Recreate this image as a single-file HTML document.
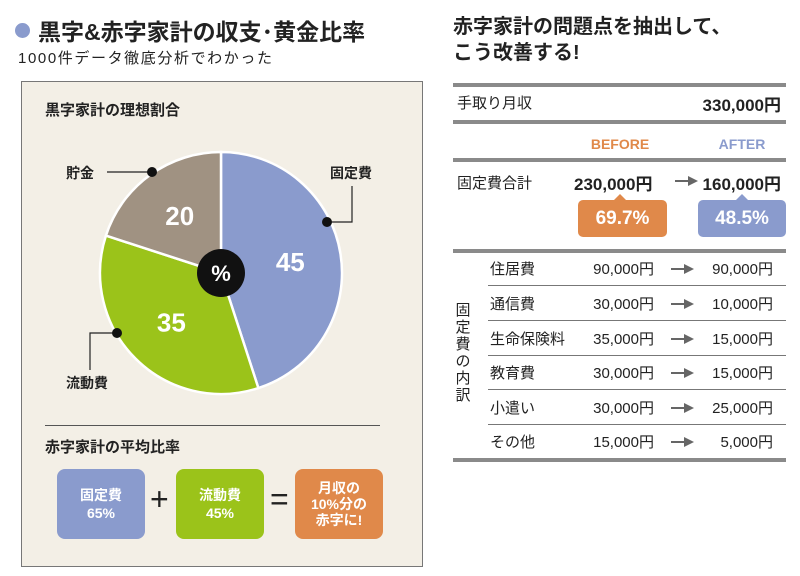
<!DOCTYPE html>
<html><head><meta charset="utf-8">
<style>
*{margin:0;padding:0;box-sizing:border-box}
body{width:800px;height:576px;background:#fff;position:relative;overflow:hidden;font-family:"Liberation Sans","Noto Sans CJK JP",sans-serif;color:#222}
.a{position:absolute;white-space:nowrap}
.b{font-weight:bold}
.gl{position:absolute;left:453px;width:333px;height:4px;background:#8a8a8a}
.tl{position:absolute;left:488px;width:298px;height:1px;background:#777}
.box{position:absolute;top:469px;width:88px;height:70px;border-radius:8px;color:#fff;font-weight:bold;font-size:14px;line-height:18px;text-align:center;display:flex;align-items:center;justify-content:center}
.nm{left:490px;font-size:15px}
.bv{left:560px;width:94px;text-align:right;font-size:15px}
.av{left:680px;width:93px;text-align:right;font-size:15px}
.arw{position:absolute;left:671px;width:24px;height:10px}
.arw::before{content:"";position:absolute;left:0;top:4px;width:14px;height:2px;background:#666}
.arw::after{content:"";position:absolute;left:13px;top:0;border-left:10px solid #666;border-top:5px solid transparent;border-bottom:5px solid transparent}
</style></head><body>
<div class="a" style="left:15px;top:23px;width:15px;height:15px;border-radius:50%;background:#8a9bcd"></div>
<div class="a b" style="left:38px;top:13px;font-size:23px">黒字&amp;赤字家計の収支･黄金比率</div>
<div class="a" style="left:18px;top:47px;font-size:15px;letter-spacing:1.6px">1000件データ徹底分析でわかった</div>

<div class="a" style="left:21px;top:81px;width:402px;height:486px;background:#f3efe6;border:1px solid #777"></div>
<div class="a b" style="left:45px;top:99px;font-size:15px">黒字家計の理想割合</div>

<svg class="a" style="left:0;top:0" width="440" height="576">
<g id="pie"></g>
<g stroke="#222" stroke-width="1.2" fill="none">
<polyline points="352,186 352,222 327,222"/>
<polyline points="107,172 152,172"/>
<polyline points="117,333 90,333 90,370"/>
</g>
<circle cx="327" cy="222" r="5" fill="#111"/>
<circle cx="152" cy="172" r="5" fill="#111"/>
<circle cx="117" cy="333" r="5" fill="#111"/>
<text x="330" y="178" font-size="14" font-weight="bold" fill="#222">固定費</text>
<text x="66" y="178" font-size="14" font-weight="bold" fill="#222">貯金</text>
<text x="66" y="388" font-size="14" font-weight="bold" fill="#222">流動費</text>
</svg>

<div class="a" style="left:45px;top:425px;width:335px;height:1px;background:#555"></div>
<div class="a b" style="left:45px;top:436px;font-size:15px">赤字家計の平均比率</div>
<div class="box" style="left:57px;background:#8a9bcd">固定費<br>65%</div>
<div class="a" style="left:150px;top:481px;font-size:32px;color:#222">+</div>
<div class="box" style="left:176px;background:#9bc31a">流動費<br>45%</div>
<div class="a" style="left:270px;top:481px;font-size:32px;color:#222">=</div>
<div class="box" style="left:295px;background:#e0894a;font-size:14px;line-height:16px">月収の<br>10%分の<br>赤字に!</div>

<div class="a b" style="left:453px;top:14px;font-size:20px;line-height:26px">赤字家計の問題点を抽出して、<br>こう改善する!</div>
<div class="gl" style="top:83px"></div>
<div class="a" style="left:457px;top:92px;font-size:15px">手取り月収</div>
<div class="a b" style="left:650px;top:91px;width:131px;text-align:right;font-size:17px">330,000円</div>
<div class="gl" style="top:120px"></div>
<div class="a b" style="left:570px;top:136px;width:100px;text-align:center;font-size:14px;color:#e0894a">BEFORE</div>
<div class="a b" style="left:692px;top:136px;width:100px;text-align:center;font-size:14px;color:#8a9bcd">AFTER</div>
<div class="gl" style="top:158px"></div>
<div class="a" style="left:457px;top:172px;font-size:15px">固定費合計</div>
<div class="a b" style="left:574px;top:170px;font-size:17px">230,000円</div>
<div class="arw" style="top:176px;left:675px;width:24px"></div>
<div class="a b" style="left:650px;top:170px;width:131px;text-align:right;font-size:17px">160,000円</div>
<div class="a" style="left:614px;top:194px;width:0;height:0;border-left:6px solid transparent;border-right:6px solid transparent;border-bottom:6px solid #e0894a"></div>
<div class="a b" style="left:578px;top:200px;width:89px;height:37px;border-radius:5px;background:#e0894a;color:#fff;font-size:19px;line-height:37px;text-align:center">69.7%</div>
<div class="a" style="left:736px;top:194px;width:0;height:0;border-left:6px solid transparent;border-right:6px solid transparent;border-bottom:6px solid #8a9bcd"></div>
<div class="a b" style="left:698px;top:200px;width:88px;height:37px;border-radius:5px;background:#8a9bcd;color:#fff;font-size:19px;line-height:37px;text-align:center">48.5%</div>
<div class="gl" style="top:249px"></div>

<div class="a" style="left:455px;top:302px;width:16px;font-size:15px;line-height:17px;white-space:normal;text-align:center">固定費の内訳</div>

<div class="a nm" style="top:258px">住居費</div><div class="a bv" style="top:258px">90,000円</div><div class="arw" style="top:264px"></div><div class="a av" style="top:258px">90,000円</div>
<div class="tl" style="top:285px"></div>
<div class="a nm" style="top:293px">通信費</div><div class="a bv" style="top:293px">30,000円</div><div class="arw" style="top:299px"></div><div class="a av" style="top:293px">10,000円</div>
<div class="tl" style="top:320px"></div>
<div class="a nm" style="top:328px">生命保険料</div><div class="a bv" style="top:328px">35,000円</div><div class="arw" style="top:334px"></div><div class="a av" style="top:328px">15,000円</div>
<div class="tl" style="top:355px"></div>
<div class="a nm" style="top:362px">教育費</div><div class="a bv" style="top:362px">30,000円</div><div class="arw" style="top:368px"></div><div class="a av" style="top:362px">15,000円</div>
<div class="tl" style="top:389px"></div>
<div class="a nm" style="top:397px">小遣い</div><div class="a bv" style="top:397px">30,000円</div><div class="arw" style="top:403px"></div><div class="a av" style="top:397px">25,000円</div>
<div class="tl" style="top:424px"></div>
<div class="a nm" style="top:431px">その他</div><div class="a bv" style="top:431px">15,000円</div><div class="arw" style="top:437px"></div><div class="a av" style="top:431px">5,000円</div>
<div class="gl" style="top:458px"></div>

<script>
const categories = ["固定費", "流動費", "貯金"];
const values = [45, 35, 20];
const colors = ["#8a9bcd", "#9bc31a", "#a09282"];
const labelNames = ["slice-fixed", "slice-variable", "slice-savings"];
const cx = 221, cy = 273, r = 121;
const NS = "http://www.w3.org/2000/svg";
const g = document.getElementById("pie");
const total = values.reduce((a, b) => a + b, 0);
function ang(v){ return v / total * 2 * Math.PI - Math.PI / 2; }
function pt(a, rr){ return [cx + rr * Math.cos(a), cy + rr * Math.sin(a)]; }
let acc = 0;
values.forEach((v, i) => {
  const a0 = ang(acc), a1 = ang(acc + v);
  const p0 = pt(a0, r), p1 = pt(a1, r);
  const large = (v / total) > 0.5 ? 1 : 0;
  const path = document.createElementNS(NS, "path");
  path.setAttribute("d", `M${cx},${cy} L${p0[0]},${p0[1]} A${r},${r} 0 ${large} 1 ${p1[0]},${p1[1]} Z`);
  path.setAttribute("fill", colors[i]);
  path.setAttribute("stroke", "#fff");
  path.setAttribute("stroke-width", "2.5");
  
  
  g.appendChild(path);
  const am = ang(acc + v / 2);
  const lp = pt(am, r * 0.58);
  const t = document.createElementNS(NS, "text");
  t.setAttribute("x", lp[0]);
  t.setAttribute("y", lp[1] + 9);
  t.setAttribute("text-anchor", "middle");
  t.setAttribute("font-size", "26");
  t.setAttribute("font-weight", "bold");
  t.setAttribute("fill", "#fff");
  t.textContent = v;
  
  
  g.appendChild(t);
  acc += v;
});
const c = document.createElementNS(NS, "circle");
c.setAttribute("cx", cx); c.setAttribute("cy", cy); c.setAttribute("r", 24);
c.setAttribute("fill", "#111");


g.appendChild(c);
const pc = document.createElementNS(NS, "text");
pc.setAttribute("x", cx); pc.setAttribute("y", cy + 8);
pc.setAttribute("text-anchor", "middle");
pc.setAttribute("font-size", "22"); pc.setAttribute("font-weight", "bold");
pc.setAttribute("fill", "#fff");
pc.textContent = "%";


g.appendChild(pc);
</script>
</body></html>
